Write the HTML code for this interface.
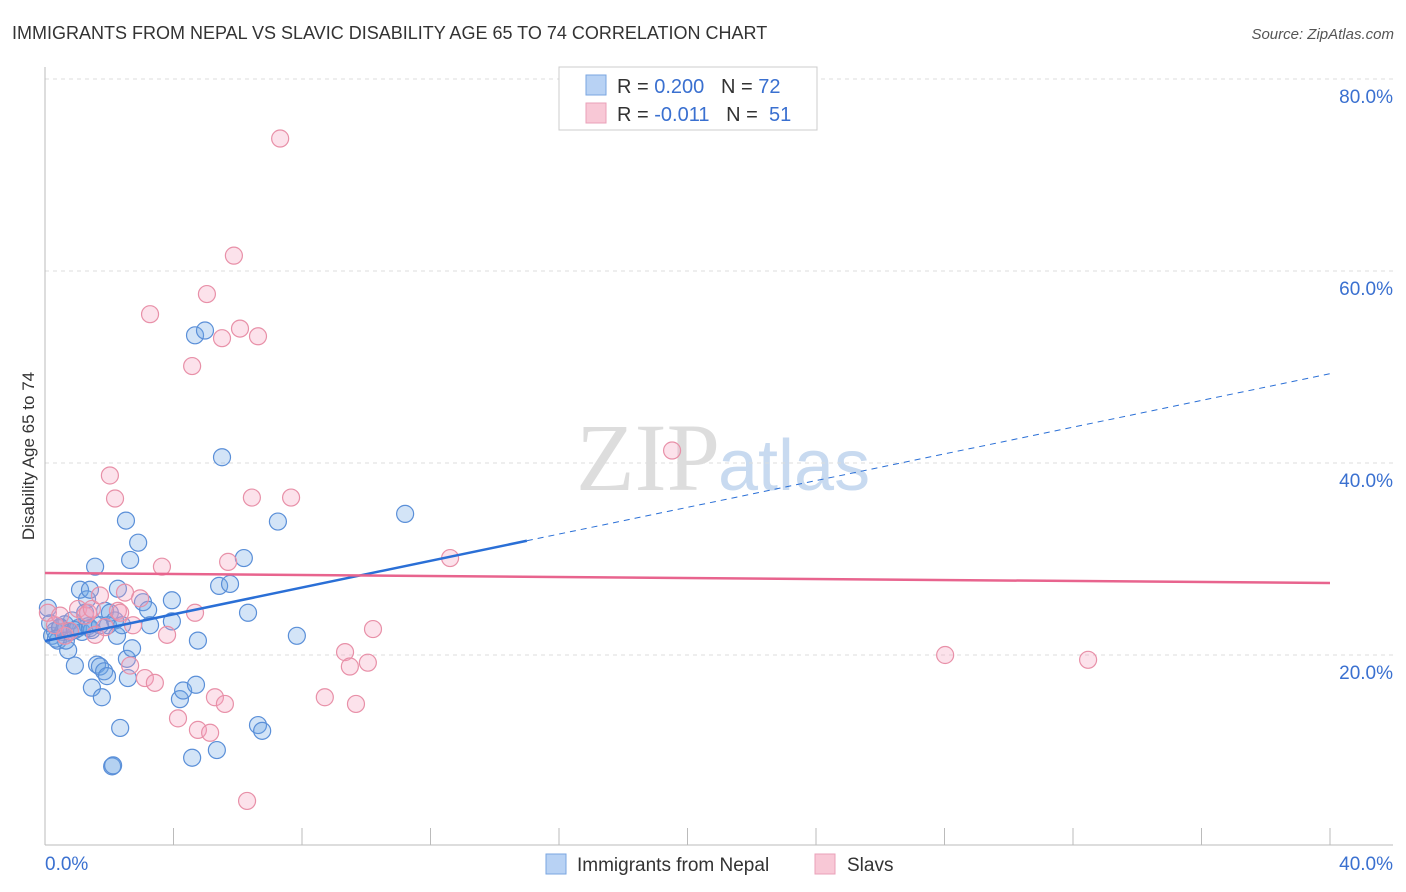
<!DOCTYPE html>
<html><head><meta charset="utf-8"><style>
body{margin:0;background:#fff;font-family:"Liberation Sans",sans-serif;}
svg{display:block}
</style></head><body>
<svg id="c" width="1406" height="892">
<text x="12" y="39" font-size="18" fill="#333">IMMIGRANTS FROM NEPAL VS SLAVIC DISABILITY AGE 65 TO 74 CORRELATION CHART</text>
<text x="1394" y="39" font-size="15" font-style="italic" fill="#555" text-anchor="end">Source: ZipAtlas.com</text>
<text x="720" y="490" font-size="96" font-family="Liberation Serif,serif" fill="#ddd" text-anchor="end">ZIP</text>
<text x="718" y="490" font-size="72" fill="#c8daf0">atlas</text>
<g id="grid"></g>
<line x1="45" y1="67" x2="45" y2="845" stroke="#bbb"/>
<line x1="45" y1="845" x2="1393" y2="845" stroke="#bbb"/>
<g id="ticks"></g>
<g id="pts"></g>
<g id="lines"></g>
<text transform="translate(34,456) rotate(-90)" font-size="17" fill="#333" text-anchor="middle">Disability Age 65 to 74</text>
<g>
<rect x="559" y="67" width="258" height="63" fill="#fff" stroke="#ccc"/>
<rect x="586" y="75" width="20" height="20" fill="#b8d2f4" stroke="#7aa6e0"/>
<rect x="586" y="103" width="20" height="20" fill="#f8c8d6" stroke="#eaa0b8"/>
<text x="617" y="93" font-size="20" fill="#333">R = <tspan fill="#3a70d0">0.200</tspan>&#160;&#160;&#160;N = <tspan fill="#3a70d0">72</tspan></text>
<text x="617" y="121" font-size="20" fill="#333">R = <tspan fill="#3a70d0">-0.011</tspan>&#160;&#160;&#160;N = <tspan fill="#3a70d0">&#160;51</tspan></text>
</g>
<g>
<rect x="546" y="854" width="20" height="20" fill="#b8d2f4" stroke="#7aa6e0"/>
<text x="577" y="871" font-size="19" fill="#333">Immigrants from Nepal</text>
<rect x="815" y="854" width="20" height="20" fill="#f8c8d6" stroke="#eaa0b8"/>
<text x="847" y="871" font-size="19" fill="#333">Slavs</text>
</g>
</svg>
<script>
const NS="http://www.w3.org/2000/svg";
const yTicks=[20,40,60,80];
const yTickLabels=["20.0%","40.0%","60.0%","80.0%"];
const xTickLabels=["0.0%","40.0%"];
const nepalX=[0.09,0.16,0.22,0.31,0.40,0.47,0.56,0.62,0.72,0.78,0.84,0.93,1.03,1.09,1.15,1.25,1.31,1.34,1.40,1.46,1.46,1.56,1.62,1.71,1.77,1.84,1.87,1.93,1.96,2.02,2.09,2.12,2.18,2.24,2.27,2.34,2.40,2.52,2.55,2.58,2.65,2.71,2.90,3.05,3.21,3.27,3.95,3.95,4.20,4.30,4.58,4.67,4.70,4.76,4.98,5.35,5.42,5.51,5.76,6.19,6.32,6.63,6.76,7.25,7.84,11.21,0.47,0.65,0.34,0.93,1.40,1.71];
const nepalY=[24.9,23.3,22.0,22.5,21.5,22.8,22.4,23.2,20.5,22.4,23.6,18.9,22.8,26.8,22.4,24.4,25.8,23.0,26.8,22.6,16.6,29.2,19.0,18.8,15.6,18.3,24.6,17.8,23.1,24.4,8.4,8.5,23.6,22.0,26.9,12.4,23.1,34.0,19.6,17.6,29.9,20.7,31.7,25.5,24.7,23.1,25.7,23.5,15.4,16.3,9.3,53.3,16.9,21.5,53.8,10.1,27.2,40.6,27.4,30.1,24.4,12.7,12.1,33.9,22.0,34.7,22.9,21.5,21.7,22.6,22.8,23.1];
const slavX=[0.09,0.31,0.47,0.62,0.78,1.03,1.25,1.34,1.46,1.56,1.71,1.87,2.02,2.18,2.27,2.34,2.49,2.65,2.74,2.96,3.11,3.27,3.42,3.64,3.80,4.14,4.58,4.67,4.76,5.04,5.14,5.29,5.51,5.60,5.70,5.88,6.07,6.29,6.44,6.63,7.32,7.66,8.71,9.34,9.49,9.68,10.05,10.21,12.61,19.52,28.02,32.47];
const slavY=[24.4,23.1,24.1,22.0,22.5,24.8,24.1,24.4,24.8,22.1,26.2,22.9,38.7,36.3,24.6,24.4,26.5,18.9,23.1,25.9,17.6,55.5,17.1,29.2,22.1,13.4,50.1,24.4,12.2,57.6,11.9,15.6,53.0,14.9,29.7,61.6,54.0,4.8,36.4,53.2,73.8,36.4,15.6,20.3,18.8,14.9,19.2,22.7,30.1,41.3,20.0,19.5];
const nepalFitX=[0,15,40];
const nepalFitY=[21.46,31.9,49.3];
const slavFitX=[0,40];
const slavFitY=[28.54,27.5];
const sx=v=>45+v*32.125, sy=v=>847-v*9.6;
function el(t,a,p){const e=document.createElementNS(NS,t);for(const k in a)e.setAttribute(k,a[k]);p.appendChild(e);return e;}
const grid=document.getElementById('grid'),ticks=document.getElementById('ticks');
yTicks.forEach((v,i)=>{
 const l=el('line',{x1:45,x2:1393,y1:sy(v),y2:sy(v),stroke:'#ddd','stroke-dasharray':'4,4'},grid);
 
 
 const t=el('text',{x:1393,y:sy(v)+24,'font-size':19,fill:'#3a70d0','text-anchor':'end'},ticks);
 t.textContent=yTickLabels[i];
 
 
});
for(let i=0;i<=10;i++){
 const l=el('line',{x1:sx(i*4),x2:sx(i*4),y1:828,y2:845,stroke:'#bbb'},ticks);
 
 
}
[[45,'start',0],[1393,'end',1]].forEach(([x,a,i])=>{
 const t=el('text',{x:x,y:870,'font-size':19,fill:'#3a70d0','text-anchor':a},ticks);
 t.textContent=xTickLabels[i];
 
 
});
const pts=document.getElementById('pts');
nepalX.forEach((x,i)=>{
 const c=el('circle',{cx:sx(x),cy:sy(nepalY[i]),r:8.5,fill:'rgba(110,165,230,0.3)',stroke:'#5a8fd8','stroke-width':1.2},pts);
 
 
});
slavX.forEach((x,i)=>{
 const c=el('circle',{cx:sx(x),cy:sy(slavY[i]),r:8.5,fill:'rgba(245,160,190,0.3)',stroke:'#e890a8','stroke-width':1.2},pts);
 
 
});
const lines=document.getElementById('lines');
const b1=el('line',{x1:sx(nepalFitX[0]),y1:sy(nepalFitY[0]),x2:sx(nepalFitX[1]),y2:sy(nepalFitY[1]),stroke:'#2a6fd6','stroke-width':2.5},lines);


const b2=el('line',{x1:sx(nepalFitX[1]),y1:sy(nepalFitY[1]),x2:sx(nepalFitX[2]),y2:sy(nepalFitY[2]),stroke:'#2a6fd6','stroke-width':1,'stroke-dasharray':'6,5'},lines);


const p1=el('line',{x1:sx(slavFitX[0]),y1:sy(slavFitY[0]),x2:sx(slavFitX[1]),y2:sy(slavFitY[1]),stroke:'#e8648e','stroke-width':2.5},lines);


</script>
</body></html>
